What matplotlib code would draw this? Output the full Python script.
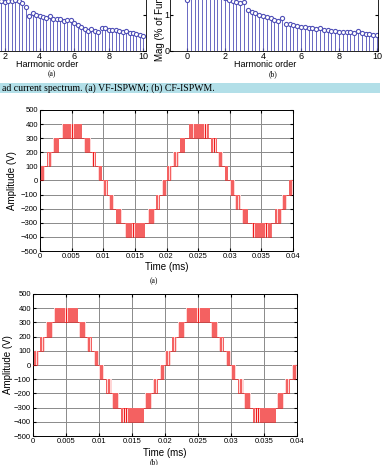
import numpy as np
import matplotlib
matplotlib.use('Agg')
import matplotlib.pyplot as plt

W, H = 385, 465

# harmonic spectra (top, partly cut off)
harm = np.round(np.arange(0, 10.01, 0.2), 1)
mag_vf = [3.0, 2.8, 2.5, 2.2, 2.0, 1.9, 1.8, 1.7, 1.6,
          1.40, 1.37, 1.38, 1.40, 1.41, 1.38, 1.32, 1.22, 0.96, 1.05,
          1.00, 0.97, 0.95, 0.93, 0.96, 0.90, 0.89, 0.88, 0.82, 0.86,
          0.87, 0.78, 0.72, 0.68, 0.62, 0.56, 0.62, 0.55, 0.52, 0.63,
          0.64, 0.58, 0.59, 0.58, 0.55, 0.52, 0.56, 0.50, 0.49, 0.47,
          0.45, 0.43]
mag_cf = [1.42,
          1.9, 1.85, 1.8, 1.75, 1.7, 1.65, 1.6, 1.55, 1.52, 1.46, 1.43,
          1.40, 1.36, 1.33, 1.35, 1.14, 1.08, 1.05, 1.01, 0.98, 0.95,
          0.92, 0.87, 0.82, 0.92, 0.76, 0.74, 0.72, 0.70, 0.68, 0.67,
          0.65, 0.63, 0.61, 0.64, 0.59, 0.57, 0.56, 0.55, 0.54, 0.53,
          0.52, 0.52, 0.51, 0.55, 0.49, 0.47, 0.46, 0.45, 0.44]

# switching windows of the 9-level output over one period (0..0.02 s)
win_lo = [0, 100, 200, 300, 200, 100, 0, -100, -200, -300, -400, -300, -200, -100]
win_dir = ['up', 'up', 'up', 'peak', 'down', 'down', 'down',
           'down', 'down', 'down', 'trough', 'up', 'up', 'up']
t0_a = [0.0, 0.00105, 0.0021, 0.0035, 0.0070, 0.0082, 0.0092,
        0.0100, 0.0109, 0.0120, 0.0135, 0.0171, 0.0183, 0.0193]
t1_a = [0.0008, 0.0019, 0.0030, 0.0066, 0.0080, 0.0089, 0.0098,
        0.0108, 0.0117, 0.0129, 0.0166, 0.0182, 0.0190, 0.0200]
n_a = [2, 2, 3, 9, 3, 2, 2, 2, 2, 3, 9, 3, 2, 2]
t0_b = [0.0, 0.0010, 0.0020, 0.0032, 0.0070, 0.0082, 0.0092,
        0.0100, 0.0110, 0.0120, 0.0133, 0.0170, 0.0182, 0.0192]
t1_b = [0.0009, 0.0018, 0.0030, 0.0068, 0.0080, 0.0090, 0.0100,
        0.0108, 0.0119, 0.0130, 0.0168, 0.0180, 0.0190, 0.0200]
n_b = [2, 2, 3, 11, 3, 2, 2, 2, 2, 3, 11, 3, 2, 2]
cycle_start = [0.0, 0.02, 0.04]

t_ticks = [0, 0.005, 0.01, 0.015, 0.02, 0.025, 0.03, 0.035, 0.04]
t_labels = ['0', '0.005', '0.01', '0.015', '0.02', '0.025', '0.03', '0.035', '0.04']
v_ticks = list(range(-500, 501, 100))

SANS = 'Liberation Sans'
SERIF = 'Liberation Serif'
RED = '#ee1c1c'
STEM = '#5050b8'


def rect(l, t, r, b):
    return [l / W, 1 - b / H, (r - l) / W, (b - t) / H]


def build_wave(t0s, t1s, ns):
    ts, vs = [], []
    for c in cycle_start:
        for lo, t0, t1, n, d in zip(win_lo, t0s, t1s, ns, win_dir):
            hi = lo + 100
            base, other = (lo, hi) if d in ('up', 'peak') else (hi, lo)
            w = (t1 - t0) / n
            ts.append(c + t0); vs.append(base)
            for k in range(n):
                a = c + t0 + (k + 0.3) * w
                b = c + t0 + (k + 0.7) * w
                if k == n - 1 and d in ('up', 'down'):
                    ts += [a, a, c + t1]; vs += [base, other, other]
                else:
                    ts += [a, a, b, b]; vs += [base, other, other, base]
            if d in ('peak', 'trough'):
                ts.append(c + t1); vs.append(base)
    return ts, vs


fig = plt.figure(figsize=(W / 100, H / 100), dpi=100)

# --- stem plots (top fragment) ---
for i, (l, r, xl, vals) in enumerate([(-47, 146, (-1, 10.15), mag_vf), (170, 378, (-0.9, 10.05), mag_cf)]):
    ax = fig.add_axes(rect(l, -60, r, 51))
    ml, sl, bl = ax.stem(harm, vals, linefmt='-', markerfmt='o', basefmt=' ')
    plt.setp(sl, color=STEM, linewidth=0.6)
    plt.setp(ml, markerfacecolor='white', markeredgecolor=STEM, markersize=3, markeredgewidth=0.8)
    ax.set_xlim(*xl)
    ax.set_ylim(0, 111 / 36)
    ax.set_xticks([0, 2, 4, 6, 8, 10])
    ax.set_yticks([0, 1])
    ax.tick_params(direction='in', length=2, labelsize=6.5, pad=0.5, top=True, right=True)
    if i == 0:
        ax.set_yticklabels([])
    for lab in ax.get_xticklabels() + ax.get_yticklabels():
        lab.set_family(SANS)
    for s in ax.spines.values():
        s.set_linewidth(0.6)

fig.text(47 / W, 1 - 64 / H, 'Harmonic order', ha='center', va='center', fontsize=6.5, family=SANS)
fig.text(265 / W, 1 - 64 / H, 'Harmonic order', ha='center', va='center', fontsize=6.5, family=SANS)
fig.text(160 / W, 1 - 61 / H, 'Mag (% of Fundamental)', rotation=90, ha='center', va='bottom',
         fontsize=7, family=SANS)
fig.text(52 / W, 1 - 74.5 / H, '(a)', ha='center', va='center', fontsize=5.5, family=SERIF)
fig.text(273 / W, 1 - 74.5 / H, '(b)', ha='center', va='center', fontsize=5.5, family=SERIF)

# caption band
fig.patches.append(plt.Rectangle((0, 1 - 93 / H), 380 / W, 10 / H, transform=fig.transFigure,
                                 facecolor='#b2dfe8', edgecolor='none'))
fig.text(2 / W, 1 - 88 / H, 'ad current spectrum. (a) VF-ISPWM; (b) CF-ISPWM.', ha='left', va='center',
         fontsize=7, family=SERIF)

# --- inverter output voltage plots ---
panels = [((40, 110, 293, 251), t0_a, t1_a, n_a, 267, 281, '(a)', 12),
          ((33, 294, 297, 436), t0_b, t1_b, n_b, 453, 462, '(b)', 8)]
for box, t0s, t1s, ns, ylab_t, ycap, cap, ylab_x in panels:
    ax = fig.add_axes(rect(*box))
    for c in cycle_start:
        ax.bar([c + (a + b) / 2 for a, b in zip(t0s, t1s)], 100,
               width=[b - a for a, b in zip(t0s, t1s)], bottom=win_lo,
               color='#ffd6d6', edgecolor='none', zorder=2)
    ts, vs = build_wave(t0s, t1s, ns)
    ax.plot(ts, vs, color=RED, linewidth=0.45, zorder=3)
    ax.set_xlim(0, 0.04)
    ax.set_ylim(-500, 500)
    ax.set_xticks(t_ticks)
    ax.set_xticklabels(t_labels)
    ax.set_yticks(v_ticks)
    ax.grid(True, color='#8a8a8a', linewidth=0.7, zorder=1)
    ax.set_axisbelow(True)
    ax.tick_params(direction='in', length=2, labelsize=5.5, pad=1.5, top=True, right=True)
    for lab in ax.get_xticklabels() + ax.get_yticklabels():
        lab.set_family(SANS)
    for s in ax.spines.values():
        s.set_linewidth(0.7)
    fig.text((box[0] + box[2]) / 2 / W, 1 - ylab_t / H, 'Time (ms)', ha='center', va='center',
             fontsize=7, family=SANS)
    fig.text(ylab_x / W, 1 - (box[1] + box[3]) / 2 / H, 'Amplitude (V)', rotation=90, ha='center',
             va='center', fontsize=7, family=SANS)
    fig.text(154 / W, 1 - ycap / H, cap, ha='center', va='center', fontsize=5.5, family=SERIF)

fig.savefig('out.png', dpi=100)
